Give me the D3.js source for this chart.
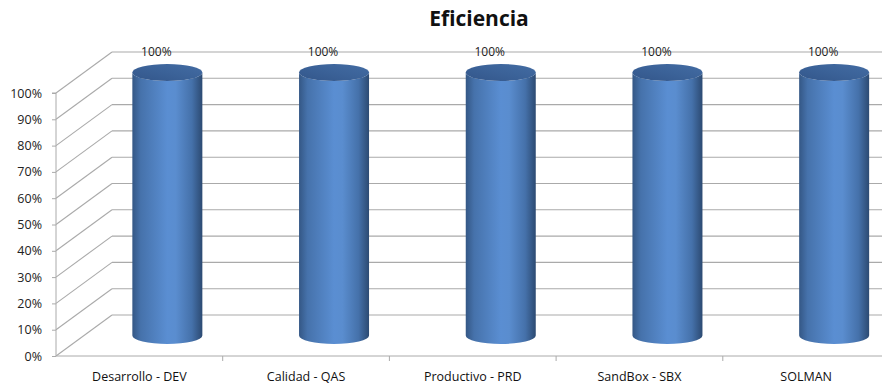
<!DOCTYPE html>
<html><head><meta charset="utf-8">
<script src="https://cdn.jsdelivr.net/npm/d3@7"></script>
<style>body{margin:0;background:#fff}svg{display:block}</style>
</head><body>
<svg id="c" width="882" height="388"></svg>
<script>
const categories = ["Desarrollo - DEV","Calidad - QAS","Productivo - PRD","SandBox - SBX","SOLMAN"];
const values = [1,1,1,1,1];
const valueLabels = ["100%","100%","100%","100%","100%"];
const yTicks = [0,0.1,0.2,0.3,0.4,0.5,0.6,0.7,0.8,0.9,1];
const title = "Eficiencia";

const svg = d3.select("#c");
const font = "'Open Sans', 'DejaVu Sans', sans-serif";
const W = 882;
const depthX = 56, depthY = -41;
const x = d3.scaleBand().domain(categories).range([56, 56 + 5*166.7]).paddingInner(0).paddingOuter(0);
const y = d3.scaleLinear().domain([0,1]).range([356, 93]);
const gridCol = "#aaaaaa";

// title
svg.append("text").attr("x", 479).attr("y", 26).attr("text-anchor","middle")
  .attr("font-family", font).attr("font-weight","bold").attr("font-size", 21).attr("fill","#111")
  .text(title);

// side wall diagonals and back wall gridlines
const grid = svg.append("g").attr("stroke", gridCol).attr("stroke-width",1.1).attr("fill","none");
yTicks.forEach(t => {
  const yf = y(t), yb = y(t) + depthY;
  grid.append("line").attr("x1",56).attr("y1",yf).attr("x2",56+depthX).attr("y2",yb);
  grid.append("line").attr("x1",56+depthX).attr("y1",yb).attr("x2",W+2).attr("y2",yb);
});

// front axis (left)
const yAxis = d3.axisLeft(y).tickValues(yTicks).tickFormat(d3.format(".0%")).tickSize(4).tickPadding(10);
const ga = svg.append("g").attr("transform","translate(56,0)").call(yAxis);
ga.select(".domain").attr("stroke", gridCol).attr("d", `M-4,${y(1)}H0V${y(0)}`);
ga.selectAll(".tick line").attr("stroke", gridCol);
ga.selectAll("text").attr("font-family", font).attr("font-size", 12.5).attr("fill","#222");

// floor front edge + category axis
const xAxis = d3.axisBottom(x).tickSize(0).tickPadding(16);
const gx = svg.append("g").attr("transform",`translate(0,${y(0)})`).call(xAxis);
gx.select(".domain").remove();
gx.selectAll(".tick line").remove();
gx.selectAll("text").attr("font-family", font).attr("font-size", 12.5).attr("fill","#111");
svg.append("line").attr("x1",56).attr("x2",W+2).attr("y1",y(0)).attr("y2",y(0)).attr("stroke",gridCol);
categories.forEach(c => {
  const bx = x(c) + x.bandwidth();
  svg.append("line").attr("x1",bx).attr("x2",bx).attr("y1",y(0)).attr("y2",y(0)+5).attr("stroke",gridCol);
});

// gradients
const defs = svg.append("defs");
const gb = defs.append("linearGradient").attr("id","body").attr("x1","0").attr("x2","1").attr("y1","0").attr("y2","0");
[[0,"#345785"],[0.12,"#4672ab"],[0.5,"#5a8ed2"],[0.62,"#5a8dcf"],[0.85,"#4571aa"],[1,"#2c4a72"]]
  .forEach(([o,c]) => gb.append("stop").attr("offset",o).attr("stop-color",c));
const gt = defs.append("linearGradient").attr("id","top").attr("x1","0").attr("x2","1").attr("y1","1").attr("y2","0");
[[0,"#33568a"],[0.5,"#3b6298"],[1,"#436ca3"]]
  .forEach(([o,c]) => gt.append("stop").attr("offset",o).attr("stop-color",c));

// cylinders
const rx = 35, ry = 8.5;
const cyl = svg.append("g");
categories.forEach((c,i) => {
  const cx = x(c) + x.bandwidth()/2 + depthX/2;
  const yTop = y(values[i]) + depthY/2;
  const yBot = y(0) + depthY/2;
  const l = cx - rx, r = cx + rx;
  cyl.append("path")
    .attr("d", `M${l},${yTop} L${l},${yBot} A${rx},${ry} 0 0 0 ${r},${yBot} L${r},${yTop} A${rx},${ry} 0 0 1 ${l},${yTop} Z`)
    .attr("fill","url(#body)");
  cyl.append("ellipse").attr("cx",cx).attr("cy",yTop).attr("rx",rx).attr("ry",ry).attr("fill","url(#top)");
  svg.append("text").attr("x", x(c) + x.bandwidth()/2 + 17).attr("y", y(values[i]) + depthY + 4)
    .attr("text-anchor","middle").attr("font-family",font).attr("font-size",12).attr("fill","#222")
    .text(valueLabels[i]);
});
</script>
</body></html>
